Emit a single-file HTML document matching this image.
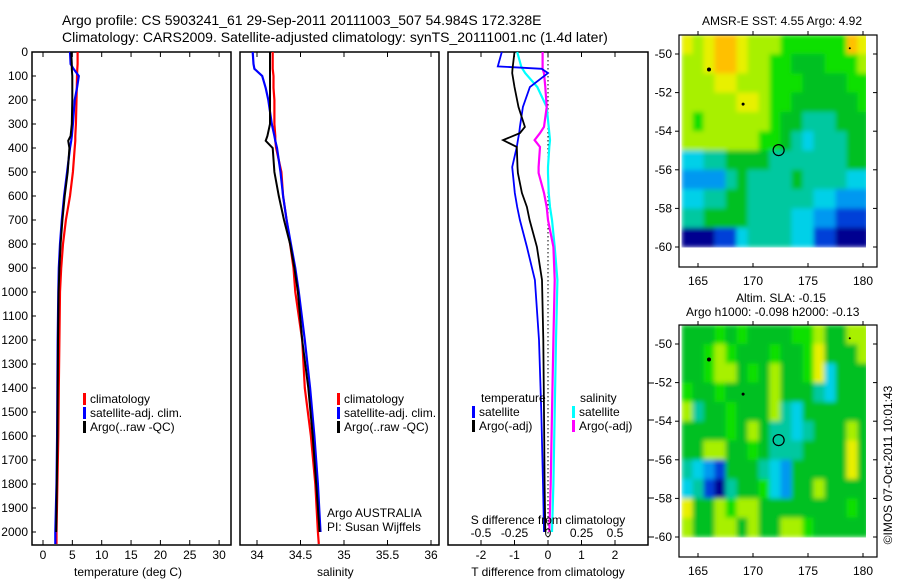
<!DOCTYPE html>
<html><head><meta charset="utf-8"><style>
body{margin:0;background:#fff}
svg text{font-family:"Liberation Sans",sans-serif;fill:#000}
</style></head><body>
<svg id="c" width="900" height="580" xmlns="http://www.w3.org/2000/svg">
<defs>
<filter id="bl" x="0" y="0" width="1" height="1"><feGaussianBlur stdDeviation="2.5" edgeMode="duplicate"/></filter>
<clipPath id="cp1"><rect x="679" y="35" width="187" height="214"/></clipPath>
<clipPath id="cp2"><rect x="679" y="325" width="187" height="214"/></clipPath>
</defs>
<text x="62" y="25" font-size="14">Argo profile: CS 5903241_61 29-Sep-2011 20111003_507 54.984S 172.328E</text>
<text x="62" y="42" font-size="14">Climatology: CARS2009. Satellite-adjusted climatology: synTS_20111001.nc (1.4d later)</text>
<g id="g"></g>
</svg>
<script>
const depthTicks=[0,100,200,300,400,500,600,700,800,900,1000,1100,1200,1300,1400,1500,1600,1700,1800,1900,2000];
const D=[0,50,70,100,150,200,300,350,370,400,500,600,700,800,900,1000,1200,1400,1600,1800,2000,2050];
const climT=[5.9,5.9,5.85,5.8,5.75,5.7,5.6,5.5,5.5,5.4,5.1,4.6,3.9,3.4,3.1,2.9,2.8,2.7,2.6,2.45,2.3,2.3];
const satT=[4.6,4.7,5.2,6.1,5.8,5.4,5.1,4.9,4.8,4.6,4.1,3.6,3.2,2.9,2.7,2.6,2.5,2.45,2.4,2.3,2.1,2.1];
const argoT=[4.8,4.9,4.9,5.0,5.0,5.0,4.9,4.7,4.3,4.5,4.2,3.7,3.3,3.0,2.8,2.65,2.55,2.5,2.45,2.35,2.25,null];
const climS=[34.18,34.18,34.18,34.19,34.19,34.2,34.2,34.21,34.21,34.22,34.28,34.3,34.34,34.38,34.42,34.44,34.52,34.55,34.62,34.67,34.7,34.71];
const satS=[33.95,33.96,33.97,34.06,34.1,34.13,34.17,34.2,34.21,34.23,34.27,34.3,34.34,34.39,34.44,34.48,34.55,34.61,34.66,34.7,34.73,null];
const argoS=[34.15,34.15,34.15,34.15,34.15,34.15,34.15,34.12,34.1,34.18,34.2,34.25,34.31,34.38,34.43,34.47,34.52,34.59,34.64,34.68,34.72,null];
const dDepth=[0,60,70,88,146,229,312,338,367,396,479,504,587,646,700,812,950,1200,1500,1800,2000];
const satTd=[-1.38,-1.5,-0.19,0,-0.54,-0.75,-0.84,-0.86,-0.9,-0.93,-1.07,-1.05,-0.99,-0.92,-0.84,-0.63,-0.39,-0.27,-0.2,-0.15,-0.12];
const argoTd=[-1.0,-1.05,-1.06,-1.07,-1.0,-0.88,-0.69,-0.84,-1.34,-0.93,-0.91,-0.9,-0.78,-0.63,-0.55,-0.33,-0.18,-0.14,-0.12,-0.1,-0.08];
const satSd=[-0.23,-0.2,-0.19,-0.17,-0.08,-0.01,0.005,0.01,0.015,0.01,0,0,0.005,0.015,0.03,0.05,0.07,0.06,0.05,0.04,0.03];
const argoSd=[-0.04,-0.04,-0.04,-0.03,-0.02,-0.01,-0.03,-0.06,-0.1,-0.06,-0.07,-0.07,-0.03,-0.01,0,0.04,0.05,0.04,0.03,0.02,0.01];
const tTicks=[0,5,10,15,20,25,30];
const sTicks=[34,34.5,35,35.5,36];
const tdTicks=[-2,-1,0,1,2];
const sdTicks=[-0.5,-0.25,0,0.25,0.5];
const lonTicks=[165,170,175,180];
const latTicks=[-50,-52,-54,-56,-58,-60];
const sstGrid=["87899877766666698","77899877665556667","77788777666555566","77777887665555556","76777777655444555","77777776654344455","33445555444444455","22224544445444433","33445544444433222","44555544443322111","00011344443311000"];
const slaGrid=["55565655556675577","55676555655685557","55677565755683555","65565555755543555","74556555743555555","55556575443455575","55775565444555585","43215554325555585","34104556325575555","85576775555555565","75577575577655555"];
const palette=["#000090","#0040d8","#0098f0","#00d0e8","#00c8a0","#00c020","#10e000","#a8f000","#e8f000","#ffc000"];

const NS="http://www.w3.org/2000/svg";const G=document.getElementById('g');
function mk(t,a,p){const e=document.createElementNS(NS,t);for(const k in a)e.setAttribute(k,a[k]);(p||G).appendChild(e);return e;}
const yD=d=>52+d*0.24;
function panel(x0,x1,name){const r=mk('rect',{x:x0,y:52,width:x1-x0,height:493,fill:'none',stroke:'#000','stroke-width':1.5});
}
function line(xs,ys,xf,col,name,w){let p='';for(let i=0;i<xs.length;i++){if(xs[i]==null)continue;p+=(p?'L':'M')+xf(xs[i]).toFixed(1)+','+yD(ys[i]).toFixed(1);}
const e=mk('path',{d:p,fill:'none',stroke:col,'stroke-width':w||2.2});}
function txt(x,y,s,size,anchor,name){const e=mk('text',{x:x,y:y,'font-size':size||12,'text-anchor':anchor||'start'});e.textContent=s;return e;}
function xticks(vals,xf,fmt,name,labY){vals.forEach(v=>{const x=xf(v);mk('line',{x1:x,x2:x,y1:52,y2:57,stroke:'#000'});mk('line',{x1:x,x2:x,y1:545,y2:540,stroke:'#000'});if(labY)txt(x,labY,fmt(v),12,'middle',name);});}
depthTicks.forEach(d=>{const y=yD(d);txt(28,y+4,String(d),12,'end','depth-tick-label');mk('line',{x1:32,x2:36,y1:y,y2:y,stroke:'#000'});});
const xT=v=>43+v*5.87;panel(32,231,'temperature-panel');xticks(tTicks,xT,String,'temperature-tick-label',559);
line(climT,D,xT,'#f00','climatology-temperature-line');line(satT,D,xT,'#00f','satellite-temperature-line');line(argoT,D,xT,'#000','argo-temperature-line',2);
txt(74,576,'temperature (deg C)',12,'start','temperature-axis-title');
function legend(x,y,items,pref){items.forEach((it,i)=>{const yy=y+i*14;mk('rect',{x:x,y:yy-10,width:3,height:12,fill:it[0]});txt(x+7,yy,it[1],12,'start',pref+'-legend-entry');});}
legend(83,403,[['#f00','climatology'],['#00f','satellite-adj. clim.'],['#000','Argo(..raw -QC)']],'temperature');
const xS=v=>257+(v-34)*87;panel(240,439,'salinity-panel');xticks(sTicks,xS,String,'salinity-tick-label',559);
line(climS,D,xS,'#f00','climatology-salinity-line');line(satS,D,xS,'#00f','satellite-salinity-line');line(argoS,D,xS,'#000','argo-salinity-line',2);
txt(317,576,'salinity',12,'start','salinity-axis-title');
legend(337,403,[['#f00','climatology'],['#00f','satellite-adj. clim.'],['#000','Argo(..raw -QC)']],'salinity');
txt(327,517,'Argo AUSTRALIA',12,'start','agency-label');txt(327,531,'PI: Susan Wijffels',12,'start','pi-label');
const xTd=v=>548+v*33.5,xSd=v=>548+v*134;panel(448,648,'difference-panel');xticks(tdTicks,xTd,String,'t-diff-tick-label',559);
for(let y=52;y<545;y+=4)mk('rect',{x:547.5,y:y,width:1,height:1.5,fill:'#000'});
line(satSd,dDepth,xSd,'#0ff','satellite-salinity-diff-line');line(argoSd,dDepth,xSd,'#f0f','argo-salinity-diff-line');
line(satTd,dDepth,xTd,'#00f','satellite-temperature-diff-line',1.8);line(argoTd,dDepth,xTd,'#000','argo-temperature-diff-line',1.8);
sdTicks.forEach(v=>txt(xSd(v),537,String(v),12,'middle','s-diff-tick-label'));
txt(548,524,'S difference from climatology',12,'middle','s-diff-axis-title');
txt(548,576,'T difference from climatology',12,'middle','t-diff-axis-title');
[383,420,460,498,537].forEach(y=>mk('line',{x1:648,x2:654,y1:y,y2:y,stroke:'#000'}));
txt(481,402,'temperature',12,'start','temperature-legend-title');txt(580,402,'salinity',12,'start','salinity-legend-title');
legend(472,416,[['#00f','satellite'],['#000','Argo(-adj)']],'t-diff');legend(572,416,[['#0ff','satellite'],['#f0f','Argo(-adj)']],'s-diff');
function map(top,grid,name,dots,clip){const xL=v=>698+(v-165)*11,yL=v=>top+19+(-50-v)*19.3;
const lon0=163.5,lat0=-49;
const cg=mk('g',{'clip-path':'url(#'+clip+')'});const hg=mk('g',{filter:'url(#bl)'},cg);

grid.forEach((row,r)=>{for(let c=0;c<row.length;c++){const x=xL(lon0+c),y=yL(lat0-r);const e=mk('rect',{x:x,y:y,width:11.3,height:19.7,fill:palette[+row[c]]},hg);
}});
const f=mk('rect',{x:679,y:top,width:198,height:232,fill:'none',stroke:'#000','stroke-width':1.2});
lonTicks.forEach(v=>{const x=xL(v);mk('line',{x1:x,x2:x,y1:top,y2:top-4,stroke:'#000'});mk('line',{x1:x,x2:x,y1:top+232,y2:top+228,stroke:'#000'});txt(x,top+250,String(v),12,'middle',name+'-lon-label');});
latTicks.forEach(v=>{const y=yL(v);mk('line',{x1:679,x2:675,y1:y,y2:y,stroke:'#000'});mk('line',{x1:877,x2:873,y1:y,y2:y,stroke:'#000'});txt(672,y+4,String(v),12,'end',name+'-lat-label');});
const c=mk('circle',{cx:xL(172.33),cy:yL(-54.98),r:5.5,fill:'none',stroke:'#000','stroke-width':1.2});
dots.forEach(d=>mk('circle',{cx:xL(d[0]),cy:yL(d[1]),r:d[2],fill:'#000'}));}
map(35,sstGrid,'sst-map',[[166,-50.8,2],[169.1,-52.6,1.5],[178.8,-49.7,1]],'cp1');
txt(782,25,'AMSR-E SST: 4.55 Argo: 4.92',12,'middle','sst-map-title');
map(325,slaGrid,'sla-map',[[166,-50.8,2],[169.1,-52.6,1.5],[178.8,-49.7,1]],'cp2');
txt(736,302,'Altim. SLA: -0.15',12,'start','sla-map-title');
txt(686,316,'Argo h1000: -0.098 h2000: -0.13',12,'start','sla-map-subtitle');
const cr=txt(0,0,'©IMOS 07-Oct-2011 10:01:43',12,'middle','timestamp-label');cr.setAttribute('transform','translate(892,465) rotate(-90)');
</script>
</body></html>
